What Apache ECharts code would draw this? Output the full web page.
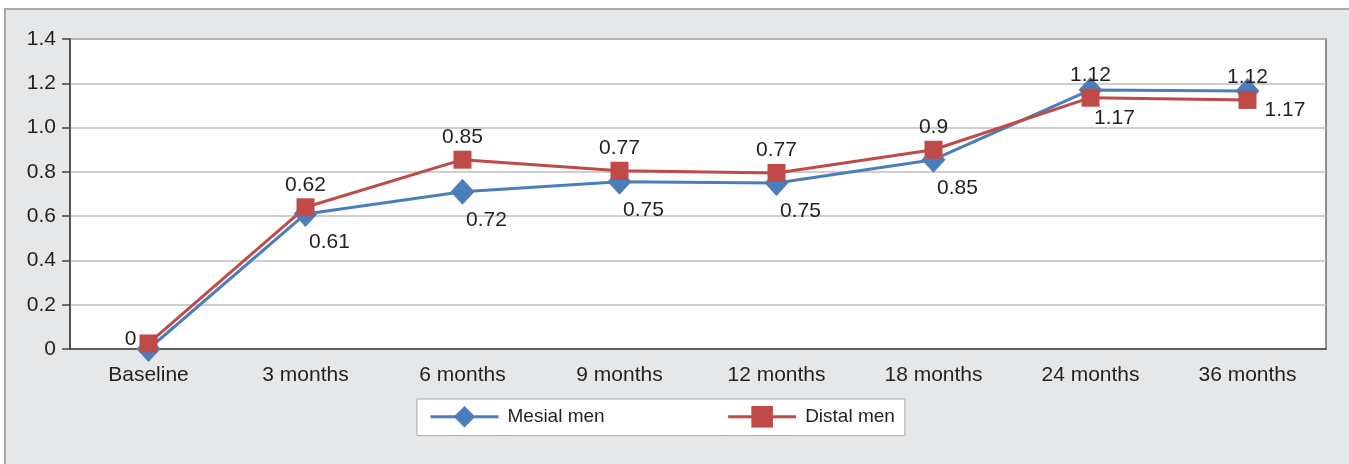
<!DOCTYPE html>
<html>
<head>
<meta charset="utf-8">
<script src="https://cdn.jsdelivr.net/npm/echarts@6/dist/echarts.min.js"></script>
<style>
  html, body { margin: 0; padding: 0; background: #fff; }
  #frame { position: absolute; left: 4px; top: 8px; width: 1360px; height: 470px;
           background: #e6e7e8; border-top: 2px solid #a7a9ac; border-left: 2px solid #a7a9ac; }
  #echarts { position: absolute; left: 0; top: 0; width: 1349px; height: 464px; }
</style>
</head>
<body>
<div id="frame"></div>
<div id="echarts"></div>
<script>
var categories = ['Baseline', '3 months', '6 months', '9 months', '12 months', '18 months', '24 months', '36 months'];
var mesialValues = [0, 0.61, 0.71, 0.755, 0.75, 0.855, 1.17, 1.165];
var distalValues = [0.025, 0.64, 0.855, 0.805, 0.795, 0.90, 1.135, 1.125];
var mesialLabels = ['', '0.61', '0.72', '0.75', '0.75', '0.85', '1.17', '1.17'];
var distalLabels = ['0', '0.62', '0.85', '0.77', '0.77', '0.9', '1.12', '1.12'];

var textColor = '#231f20';
var font = 'Liberation Sans, Arial, sans-serif';

var mesialData = mesialValues.map(function (v, i) {
    var item = { value: v };
    if (i === mesialValues.length - 1) {
        item.label = { position: 'right', offset: [0, 19] };
    }
    return item;
});
var distalData = distalValues.map(function (v, i) {
    var item = { value: v };
    if (i === 0) {
        item.label = { position: 'left', offset: [0, -4] };
    }
    return item;
});

var myChart = echarts.init(document.getElementById('echarts'));
var option = {
    backgroundColor: 'transparent',
    animation: false,
    grid: {
        left: 70, right: 23, top: 39, bottom: 115,
        show: true,
        backgroundColor: '#ffffff',
        borderColor: '#6d6e71',
        borderWidth: 1.5
    },
    legend: {
        left: 417, top: 399,
        padding: [7, 10, 8, 12],
        backgroundColor: '#ffffff',
        borderColor: '#a7a9ac',
        borderWidth: 1,
        itemWidth: 68,
        itemHeight: 27,
        itemGap: 122,
        lineStyle: { width: 3 },
        textStyle: { fontFamily: font, fontSize: 19, color: textColor, padding: [0, 0, 0, 4] },
        data: ['Mesial men', 'Distal men']
    },
    xAxis: {
        type: 'category',
        data: categories,
        boundaryGap: true,
        axisLine: { lineStyle: { color: '#414042', width: 1.5 } },
        axisTick: { alignWithLabel: false, length: 8, lineStyle: { color: '#414042', width: 1.5 } },
        axisLabel: { margin: 16, fontFamily: font, fontSize: 21, color: textColor }
    },
    yAxis: {
        type: 'value',
        min: 0, max: 1.4, interval: 0.2,
        axisLine: { show: true, lineStyle: { color: '#414042', width: 1.5 } },
        axisTick: { show: true, length: 8, lineStyle: { color: '#414042', width: 1.5 } },
        splitLine: { lineStyle: { color: '#bcbec0', width: 1.5 } },
        axisLabel: {
            margin: 14, fontFamily: font, fontSize: 21, color: textColor,
            padding: [3, 0, 0, 0],
            formatter: function (v) { return v === 0 ? '0' : v.toFixed(1); }
        }
    },
    series: [
        {
            name: 'Mesial men',
            type: 'line',
            data: mesialData,
            symbol: 'diamond',
            symbolSize: [24, 26],
            lineStyle: { color: '#4a7ebb', width: 3 },
            itemStyle: { color: '#4a7ebb' },
            label: {
                show: true, position: 'bottom', offset: [24, 0],
                fontFamily: font, fontSize: 21, color: textColor,
                formatter: function (p) { return mesialLabels[p.dataIndex]; }
            }
        },
        {
            name: 'Distal men',
            type: 'line',
            data: distalData,
            symbol: 'rect',
            symbolSize: 18,
            lineStyle: { color: '#be4b48', width: 3 },
            itemStyle: { color: '#be4b48' },
            label: {
                show: true, position: 'top', distance: 3,
                fontFamily: font, fontSize: 21, color: textColor,
                formatter: function (p) { return distalLabels[p.dataIndex]; }
            }
        }
    ]
};
myChart.setOption(option);
</script>
</body>
</html>
